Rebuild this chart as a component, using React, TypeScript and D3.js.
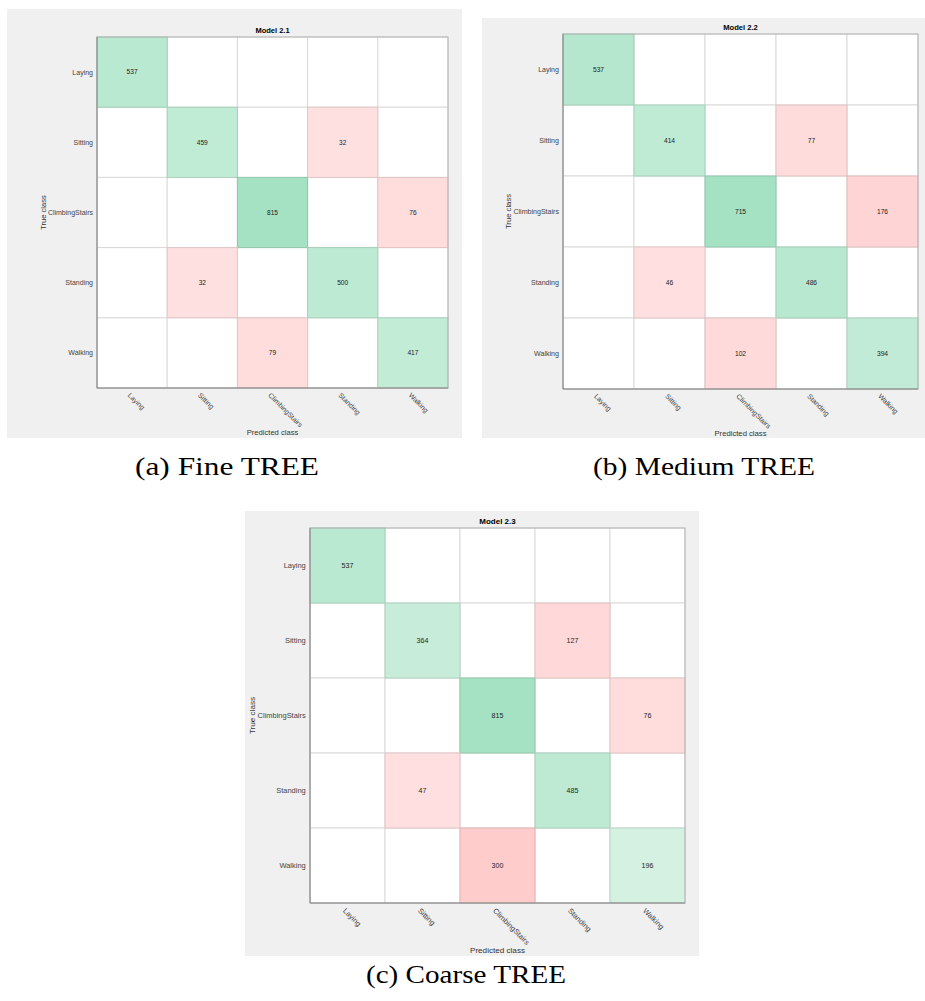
import React from "react";
import * as d3 from "d3";

const classes = ["Laying", "Sitting", "ClimbingStairs", "Standing", "Walking"];

// rows = true class, columns = predicted class
const model21 = [
  [537, 0, 0, 0, 0],
  [0, 459, 0, 32, 0],
  [0, 0, 815, 0, 76],
  [0, 32, 0, 500, 0],
  [0, 0, 79, 0, 417],
];
const model22 = [
  [537, 0, 0, 0, 0],
  [0, 414, 0, 77, 0],
  [0, 0, 715, 0, 176],
  [0, 46, 0, 486, 0],
  [0, 0, 102, 0, 394],
];
const model23 = [
  [537, 0, 0, 0, 0],
  [0, 364, 0, 127, 0],
  [0, 0, 815, 0, 76],
  [0, 47, 0, 485, 0],
  [0, 0, 300, 0, 196],
];

const titles = ["Model 2.1", "Model 2.2", "Model 2.3"];
const captions = ["(a) Fine TREE", "(b) Medium TREE", "(c) Coarse TREE"];

const SANS = "'Liberation Sans', Arial, Helvetica, sans-serif";
const DIAG = "#a5e2c3";
const OFF = "#ffa5a5";

type Box = { x: number; y: number; w: number; h: number };

const Matrix = ({
  data,
  title,
  bg,
  plot,
}: {
  data: number[][];
  title: string;
  bg: Box;
  plot: Box;
}) => {
  const k = plot.w / 351;
  const x = d3.scaleBand().domain(classes).range([0, plot.w]);
  const y = d3.scaleBand().domain(classes).range([0, plot.h]);
  const max = d3.max(data.flat()) as number;
  const t = d3.scaleLinear().domain([0, max]).range([0.313, 1]);

  const cells = data.flatMap((row, i) =>
    row.map((v, j) => ({ v, r: classes[i], c: classes[j], diag: i === j }))
  );
  const fillOf = (d: { v: number; diag: boolean }) =>
    d.v === 0
      ? "#fff"
      : d3.interpolateRgb("#ffffff", d.diag ? DIAG : OFF)(t(d.v));

  return (
    <g>
      <rect x={bg.x} y={bg.y} width={bg.w} height={bg.h} fill="#f0f0f0" />
      <g transform={`translate(${plot.x},${plot.y})`} fontFamily={SANS}>
        <rect width={plot.w} height={plot.h} fill="#fff" />
        {cells
          .filter((d) => d.v === 0)
          .map((d, i) => (
            <rect
              key={"e" + i}
              x={x(d.c)}
              y={y(d.r)}
              width={x.bandwidth()}
              height={y.bandwidth()}
              fill="#fff"
              stroke="#dadada"
              strokeWidth={1}
            />
          ))}
        {cells
          .filter((d) => d.v > 0)
          .map((d, i) => (
            <rect
              key={"c" + i}
              x={x(d.c)}
              y={y(d.r)}
              width={x.bandwidth()}
              height={y.bandwidth()}
              fill={fillOf(d)}
              stroke={d3.color(fillOf(d))!.darker(0.35).formatHex()}
              strokeWidth={1}
            />
          ))}
        <rect
          width={plot.w}
          height={plot.h}
          fill="none"
          stroke="#b4b4b4"
          strokeWidth={1}
        />
        <line x1={0} x2={0} y1={0} y2={plot.h} stroke="#888" />
        <line x1={0} x2={plot.w} y1={plot.h} y2={plot.h} stroke="#888" />
        {cells
          .filter((d) => d.v > 0)
          .map((d, i) => (
            <text
              key={i}
              x={(x(d.c) as number) + x.bandwidth() / 2}
              y={(y(d.r) as number) + y.bandwidth() / 2}
              dy="0.35em"
              textAnchor="middle"
              fontSize={6.6 * k}
              fill="#222"
            >
              {d.v}
            </text>
          ))}
        {classes.map((c) => (
          <text
            key={"y" + c}
            x={-4 * k}
            y={(y(c) as number) + y.bandwidth() / 2}
            dy="0.35em"
            textAnchor="end"
            fontSize={7 * k}
            fill="#444"
          >
            {c}
          </text>
        ))}
        {classes.map((c) => (
          <text
            key={"x" + c}
            transform={`translate(${(x(c) as number) + x.bandwidth() / 2 - 3 * k},${
              plot.h + 6 * k
            }) rotate(45)`}
            dy="0.35em"
            textAnchor="start"
            fontSize={7 * k}
            fill="#444"
          >
            {c}
          </text>
        ))}
        <text
          x={plot.w / 2}
          y={-4 * k}
          textAnchor="middle"
          fontSize={7.5 * k}
          fontWeight="bold"
          fill="#000"
        >
          {title}
        </text>
        <text
          x={plot.w / 2}
          y={plot.h + 44 * k}
          dy="0.35em"
          textAnchor="middle"
          fontSize={7.6 * k}
          fill="#333"
        >
          Predicted class
        </text>
        <text
          transform={`translate(${-54 * k},${plot.h / 2}) rotate(-90)`}
          dy="0.35em"
          textAnchor="middle"
          fontSize={7.6 * k}
          fill="#333"
        >
          True class
        </text>
      </g>
    </g>
  );
};

export default function App() {
  const panels = [
    {
      data: model21,
      bg: { x: 7, y: 9, w: 455, h: 429 },
      plot: { x: 97, y: 37, w: 351, h: 351 },
      cap: { x: 227, y: 475, len: 184 },
    },
    {
      data: model22,
      bg: { x: 482, y: 18, w: 443, h: 420 },
      plot: { x: 563, y: 34, w: 355, h: 355 },
      cap: { x: 704, y: 475, len: 222 },
    },
    {
      data: model23,
      bg: { x: 245, y: 511, w: 454, h: 445 },
      plot: { x: 310, y: 528, w: 375, h: 375 },
      cap: { x: 466, y: 983, len: 200 },
    },
  ];

  return (
    <svg
      width={925}
      height={1001}
      style={{ position: "absolute", left: 0, top: 0, background: "#fff" }}
    >
      {panels.map((p, i) => (
        <g key={i}>
          <Matrix data={p.data} title={titles[i]} bg={p.bg} plot={p.plot} />
          <text
            x={p.cap.x - p.cap.len / 2}
            y={p.cap.y}
            textLength={p.cap.len}
            lengthAdjust="spacingAndGlyphs"
            fontFamily="'Liberation Serif', 'Times New Roman', serif"
            fontSize={25}
            fill="#000"
          >
            {captions[i]}
          </text>
        </g>
      ))}
    </svg>
  );
}
